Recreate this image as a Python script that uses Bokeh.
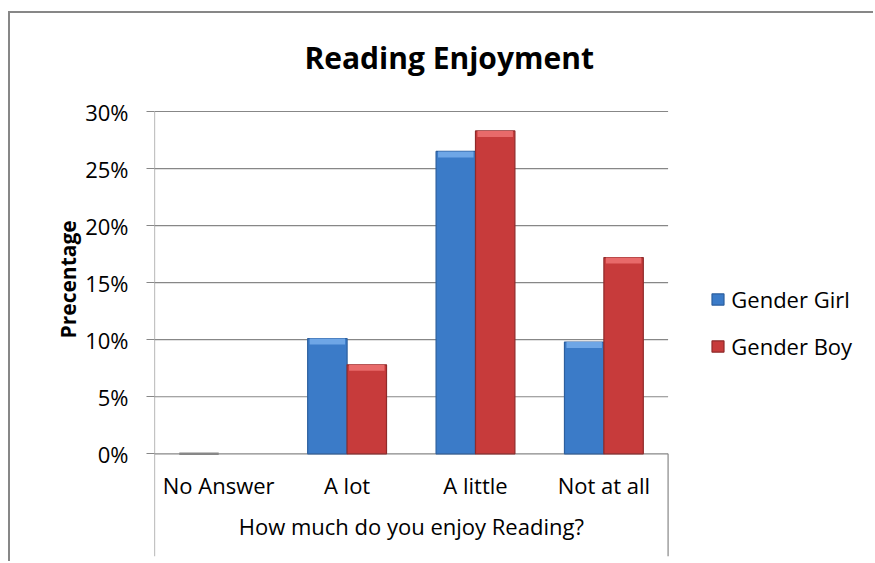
from bokeh.plotting import figure
from bokeh.models import (Range1d, ColumnDataSource, NumeralTickFormatter,
                          FixedTicker, Legend, LegendItem, Title)
from bokeh.core.properties import value
from bokeh.embed import file_html
from bokeh.resources import INLINE

# ---- data ----
categories = ["No Answer", "A lot", "A little", "Not at all"]
girl_pct = [0.0, 10.1, 26.5, 9.8]
boy_pct = [0.0, 7.8, 28.3, 17.2]
y_ticks_pct = [0, 5, 10, 15, 20, 25, 30]
series_names = ["Gender Girl", "Gender Boy"]
chart_title = "Reading Enjoyment"
x_title = "How much do you enjoy Reading?"
y_title = "Precentage"

# ---- layout constants (image pixels) ----
OX, OY = 10, 13                      # canvas origin after the css border
W, H = 865, 550
PLOT_L, PLOT_R = 153.7, 667.5        # plot area left/right
Y30, Y0 = 111.0, 453.3               # 30% and 0% gridlines
BOX_B = 556.0                        # bottom of the category box
Y_MAX = 0.30
FONT = "Open Sans"
GRAY = "#878787"
N = len(categories)


def xd(px):
    return (px - PLOT_L) / (PLOT_R - PLOT_L) * N


def yd(py):
    return (Y0 - py) / (Y0 - Y30) * Y_MAX


girl = [v / 100 for v in girl_pct]
boy = [v / 100 for v in boy_pct]
ticks = [t / 100 for t in y_ticks_pct]
centers = [i + 0.5 for i in range(N)]
bevel = 6 / (Y0 - Y30) * Y_MAX
bw = 0.307

src = ColumnDataSource(dict(
    xg=[c - bw / 2 for c in centers],
    xb=[c + bw / 2 for c in centers],
    girl=girl,
    boy=boy,
    girl_bev=[max(v - bevel, 0) for v in girl],
    boy_bev=[max(v - bevel, 0) for v in boy],
    girl_line=["#2c5f9e" if v > 0 else GRAY for v in girl],
    boy_line=["#8f2a2a" if v > 0 else GRAY for v in boy],
    girl_lw=[1.2 if v > 0 else 2.5 for v in girl],
    boy_lw=[1.2 if v > 0 else 0 for v in boy],
))

p = figure(x_range=Range1d(0, xd(OX + W)), y_range=Range1d(yd(BOX_B), yd(OY)),
           width=W, height=H, output_backend="svg", toolbar_location=None,
           min_border_left=round(PLOT_L - OX), min_border_right=0,
           min_border_top=0, min_border_bottom=round(H - (BOX_B - OY)))
p.styles = {"border-top": f"2px solid {GRAY}", "border-left": f"2px solid {GRAY}",
            "margin-top": "11px", "margin-left": "8px"}
p.background_fill_color = "white"
p.border_fill_color = "white"
p.outline_line_color = None
p.xgrid.grid_line_color = None
p.ygrid.grid_line_color = None

p.yaxis.ticker = FixedTicker(ticks=ticks)
p.yaxis.formatter = NumeralTickFormatter(format="0%")
p.xaxis.ticker = FixedTicker(ticks=centers)
p.xaxis.major_label_overrides = {c: name for c, name in zip(centers, categories)}

for ax in (p.xaxis[0], p.yaxis[0]):
    ax.axis_line_color = None
    ax.major_tick_line_color = GRAY
    ax.major_tick_line_width = 1.2
    ax.minor_tick_line_color = None
    ax.major_tick_in = 0
    ax.major_label_text_font = FONT
    ax.major_label_text_font_size = "22px"
    ax.major_label_text_color = "black"

p.yaxis.major_tick_out = 8
p.yaxis.major_label_standoff = 18

# category labels sit inside the category box under the plot area
p.xaxis.major_tick_out = 0
p.xaxis.major_label_standoff = -87

# y axis title, centred on the plot area
ytitle = Title(text=y_title, align="left", offset=218, standoff=2,
               text_font=FONT, text_font_size="21px", text_font_style="bold",
               text_color="black")
p.add_layout(ytitle, "left")

# value axis line, gridlines and the edges of the category box
p.segment(x0=[0], y0=[yd(BOX_B)], x1=[0], y1=[Y_MAX], line_color=GRAY, line_width=1.2)
p.segment(x0=0, y0=ticks, x1=N, y1=ticks, line_color=GRAY, line_width=1.2)
p.segment(x0=[N], y0=[yd(BOX_B)], x1=[N], y1=[0], line_color=GRAY, line_width=1.2)

# chart title and x axis title
p.text(x=[xd(448.5)], y=[yd(57)], text=[chart_title], text_align="center",
       text_baseline="middle", text_font=value(FONT), text_font_size="30px",
       text_font_style="bold", text_color="black")
p.text(x=[N / 2], y=[yd(525)], text=[x_title], text_align="center",
       text_baseline="middle", text_font=value(FONT), text_font_size="22px",
       text_color="black")

r_girl = p.vbar(x="xg", top="girl", bottom=0, width=bw, source=src,
                fill_color="#3b7bc8", line_color="girl_line", line_width="girl_lw")
p.vbar(x="xg", top="girl", bottom="girl_bev", width=bw * 0.9, source=src,
       fill_color="#6ea6e6", line_color=None)
r_boy = p.vbar(x="xb", top="boy", bottom=0, width=bw, source=src,
               fill_color="#c73b3b", line_color="boy_line", line_width="boy_lw")
p.vbar(x="xb", top="boy", bottom="boy_bev", width=bw * 0.9, source=src,
       fill_color="#e86a6a", line_color=None)

legend = Legend(items=[LegendItem(label=series_names[0], renderers=[r_girl], index=1),
                       LegendItem(label=series_names[1], renderers=[r_boy], index=1)],
                location=(710 - PLOT_L, BOX_B - 361),
                orientation="vertical", padding=0, margin=0, spacing=17,
                glyph_width=15, glyph_height=14, label_height=24, label_standoff=6,
                label_text_font=FONT, label_text_font_size="22px", label_text_color="black",
                border_line_color=None, background_fill_alpha=0)
p.add_layout(legend)

open("out.html", "w").write(file_html(p, INLINE))
